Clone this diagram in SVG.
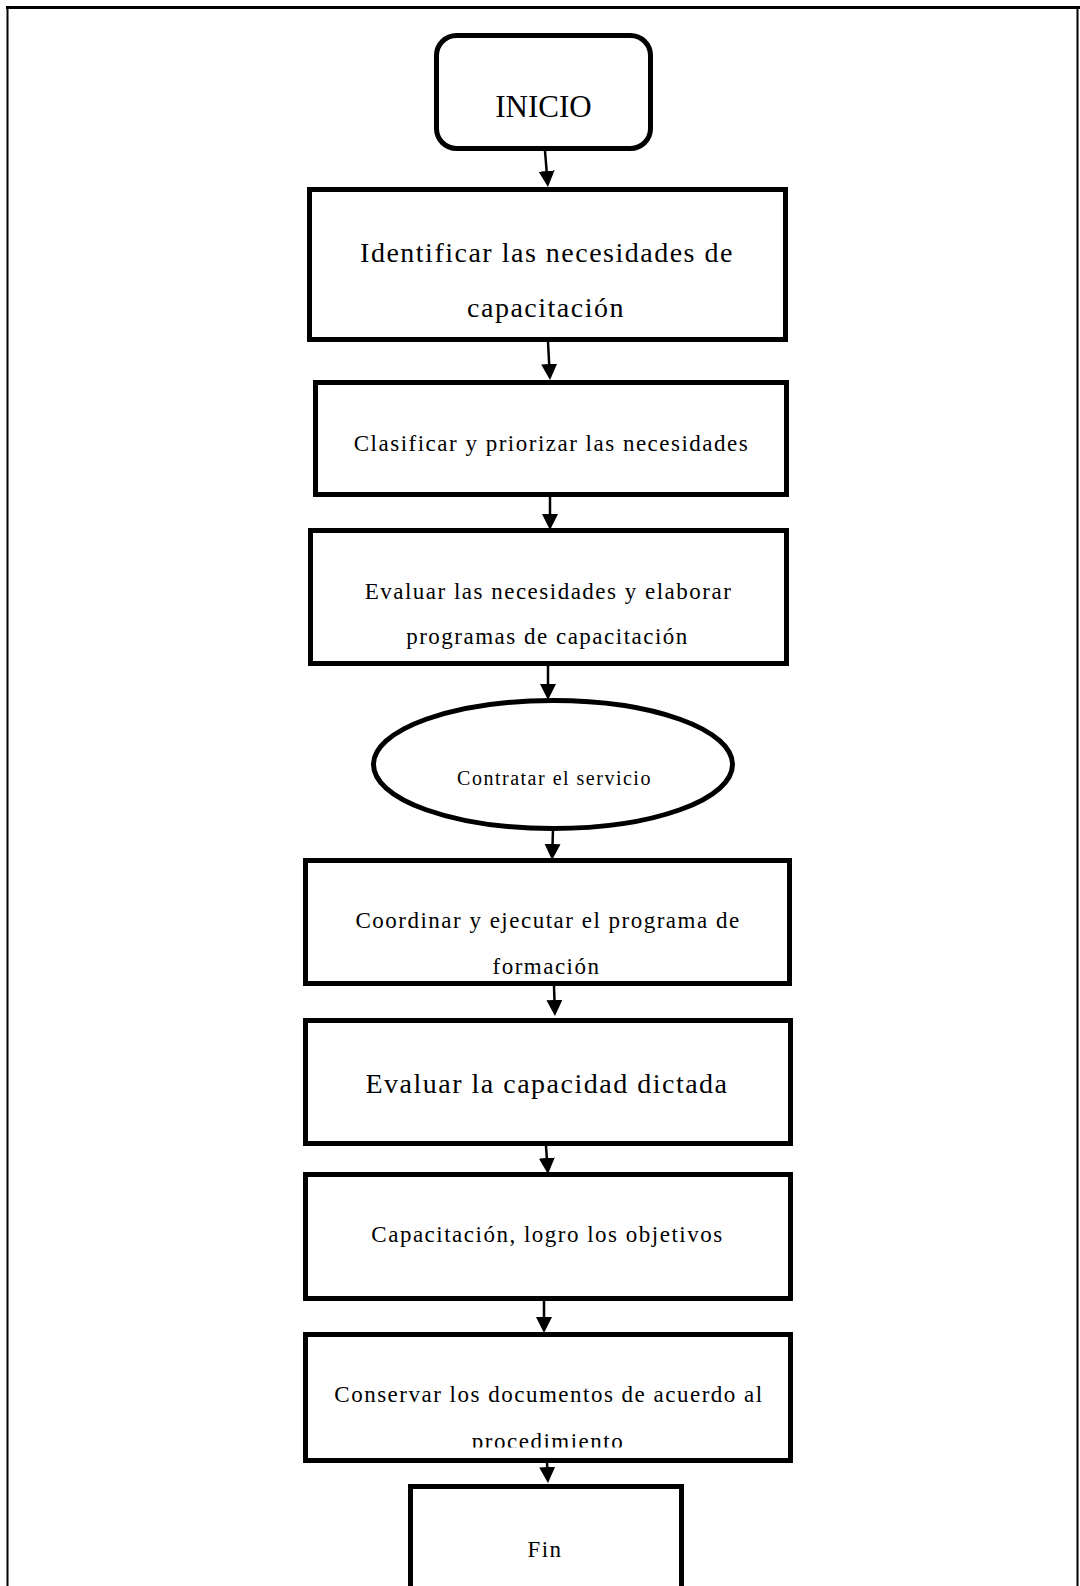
<svg xmlns="http://www.w3.org/2000/svg" width="1080" height="1586" viewBox="0 0 1080 1586">
  <style>
    .frame { fill: none; stroke: #000; }
    .box { fill: #fff; stroke: #000; stroke-width: 5; }
    .lbl { font-family: "Liberation Serif", "Times New Roman", serif; fill: #000; text-anchor: middle; }
    .sp { letter-spacing: 1.5px; }
    .edge { fill: none; stroke: #000; stroke-width: 2.5; }
  </style>
  <defs>
    <marker id="arrow" markerUnits="userSpaceOnUse" markerWidth="17" markerHeight="17" refX="8" refY="8" orient="auto">
      <path d="M0,0 L16,8 L0,16 z" fill="#000"/>
    </marker>
    <clipPath id="clip-last-line">
      <rect x="300" y="1330" width="500" height="117.5"/>
    </clipPath>
  </defs>

  <rect width="1080" height="1586" fill="#fff"/>

  <!-- page frame -->
  <g id="frame">
    <line class="frame" x1="6" y1="7.5" x2="1080" y2="7.5" stroke-width="3"/>
    <line class="frame" x1="7.5" y1="6" x2="7.5" y2="1586" stroke-width="2"/>
    <line class="frame" x1="1077.5" y1="6" x2="1077.5" y2="1586" stroke-width="2"/>
  </g>

  <!-- connectors -->
  <g id="connectors">
    <line class="edge" x1="545" y1="151" x2="547.3" y2="179" marker-end="url(#arrow)"/>
    <line class="edge" x1="548" y1="342" x2="549.6" y2="372" marker-end="url(#arrow)"/>
    <line class="edge" x1="550" y1="497" x2="550" y2="522" marker-end="url(#arrow)"/>
    <line class="edge" x1="548" y1="666" x2="548" y2="692" marker-end="url(#arrow)"/>
    <line class="edge" x1="553" y1="829" x2="552.3" y2="852" marker-end="url(#arrow)"/>
    <line class="edge" x1="554" y1="986" x2="554.7" y2="1008" marker-end="url(#arrow)"/>
    <line class="edge" x1="546" y1="1146" x2="547.4" y2="1166" marker-end="url(#arrow)"/>
    <line class="edge" x1="544" y1="1301" x2="544" y2="1325" marker-end="url(#arrow)"/>
    <line class="edge" x1="547" y1="1462" x2="547.6" y2="1475" marker-end="url(#arrow)"/>
  </g>

  <!-- start -->
  <g id="inicio">
    <rect class="box" x="436.5" y="35.5" width="214" height="113" rx="20" ry="20"/>
    <text class="lbl" x="543.5" y="117" font-size="31">INICIO</text>
  </g>

  <g id="identificar">
    <rect class="box" x="309.5" y="189.5" width="476" height="150"/>
    <text class="lbl sp" x="547" y="262" font-size="28">Identificar las necesidades de</text>
    <text class="lbl sp" x="546" y="317" font-size="28">capacitación</text>
  </g>

  <g id="clasificar">
    <rect class="box" x="315.5" y="382.5" width="471" height="112"/>
    <text class="lbl sp" x="551.5" y="451" font-size="23">Clasificar y priorizar las necesidades</text>
  </g>

  <g id="evaluar-necesidades">
    <rect class="box" x="310.5" y="530.5" width="476" height="133"/>
    <text class="lbl sp" x="548.5" y="599" font-size="23">Evaluar las necesidades y elaborar</text>
    <text class="lbl sp" x="547.5" y="644" font-size="23">programas de capacitación</text>
  </g>

  <g id="contratar">
    <ellipse class="box" cx="553" cy="764.5" rx="179.5" ry="64"/>
    <text class="lbl sp" x="554.5" y="785" font-size="20">Contratar el servicio</text>
  </g>

  <g id="coordinar">
    <rect class="box" x="305.5" y="860.5" width="484" height="123"/>
    <text class="lbl sp" x="548" y="928" font-size="23">Coordinar y ejecutar el programa de</text>
    <text class="lbl sp" x="546.5" y="974" font-size="23">formación</text>
  </g>

  <g id="evaluar-capacidad">
    <rect class="box" x="305.5" y="1020.5" width="485" height="123"/>
    <text class="lbl sp" x="547" y="1093" font-size="28">Evaluar la capacidad dictada</text>
  </g>

  <g id="capacitacion">
    <rect class="box" x="305.5" y="1174.5" width="485" height="124"/>
    <text class="lbl sp" x="547.5" y="1242" font-size="23">Capacitación, logro los objetivos</text>
  </g>

  <g id="conservar">
    <rect class="box" x="305.5" y="1334.5" width="485" height="126"/>
    <text class="lbl sp" x="549" y="1402" font-size="23">Conservar los documentos de acuerdo al</text>
    <text class="lbl sp" x="548" y="1448.5" font-size="23" clip-path="url(#clip-last-line)">procedimiento</text>
  </g>

  <!-- end -->
  <g id="fin">
    <rect class="box" x="410.5" y="1486.5" width="271" height="130"/>
    <text class="lbl sp" x="545" y="1557" font-size="23">Fin</text>
  </g>
</svg>
